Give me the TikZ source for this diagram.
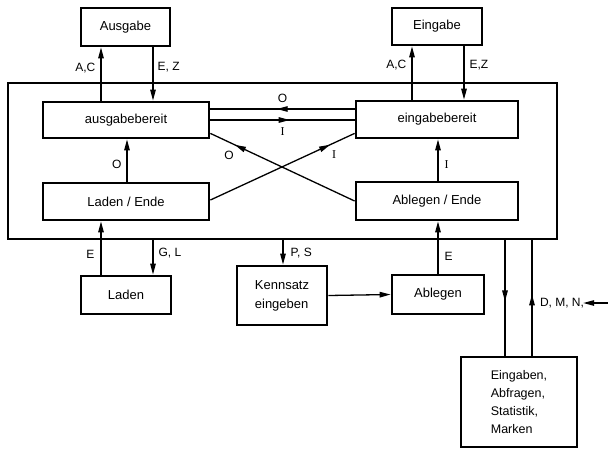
\documentclass[tikz,border=0pt]{standalone}
\usepackage{fontspec}
\setmainfont{Liberation Sans}
\newfontfamily\romanI{Liberation Serif}
\usetikzlibrary{arrows.meta,decorations.markings}

\begin{document}
\begin{tikzpicture}[x=1pt,y=-1pt,
  box/.style={draw,line width=2.8pt,inner sep=0pt,font=\fontsize{13}{19}\selectfont},
  thinbox/.style={draw,line width=1.1pt,inner sep=0pt},
  conn/.style={line width=1.3pt},
  arr/.style={conn,-{Triangle[length=11pt,width=5.5pt]}},
  lbl/.style={inner sep=0pt,font=\fontsize{12}{14}\selectfont},
  midarrow/.style={conn,postaction={decorate},
    decoration={markings,mark=at position #1 with {\arrow{Triangle[length=11pt,width=5.5pt]}}}},
]
\useasboundingbox (0,0) rectangle (608,448);

% outer frame of the state machine
\node[thinbox,minimum width=549pt,minimum height=156pt] (frame) at (282.5,161) {};

% external units
\node[box,minimum width=89pt,minimum height=38pt] (ausgabe) at (125.5,27) {Ausgabe};
\node[box,minimum width=90pt,minimum height=37pt] (eingabe) at (437,26.5) {Eingabe};

% states
\node[box,minimum width=166pt,minimum height=36pt] (ausgabebereit) at (126,120) {ausgabebereit};
\node[box,minimum width=162pt,minimum height=37pt] (eingabebereit) at (437,119.5) {eingabebereit};
\node[box,minimum width=166pt,minimum height=37pt] (ladenende) at (126,201.5) {Laden / Ende};
\node[box,minimum width=162pt,minimum height=38pt] (ablegenende) at (437,201) {Ablegen / Ende};

% lower units
\node[box,minimum width=90pt,minimum height=38pt] (laden) at (126,295) {Laden};
\node[box,minimum width=90pt,minimum height=59pt,align=left] (kennsatz) at (282,295.5) {Kennsatz\\eingeben};
\node[box,minimum width=92pt,minimum height=39pt] (ablegen) at (438,294.5) {Ablegen};
\node[thinbox,line width=1.4pt,minimum width=116pt,minimum height=90pt,align=left,
  font=\fontsize{12.5}{18.3}\selectfont] (eingaben) at (519,402)
  {Eingaben,\\Abfragen,\\Statistik,\\Marken};

% x positions of the vertical connectors
\coordinate (xa) at (101,0);
\coordinate (xb) at (153,0);
\coordinate (xc) at (412,0);
\coordinate (xd) at (464,0);
\coordinate (xo) at (127,0);
\coordinate (xi) at (438,0);
\coordinate (xp) at (283,0);
\coordinate (xg) at (505,0);
\coordinate (xh) at (532,0);
% y positions of the horizontal connectors
\coordinate (yo) at (0,109);
\coordinate (yi) at (0,120);

% Ausgabe / Eingabe
\draw[arr] (ausgabebereit.north -| xa) -- (ausgabe.south -| xa)
  node[lbl,pos=0.62,left=5pt] {A,C};
\draw[arr] (ausgabe.south -| xb) -- (ausgabebereit.north -| xb)
  node[lbl,pos=0.37,right=4pt] {E, Z};
\draw[arr] (eingabebereit.north -| xc) -- (eingabe.south -| xc)
  node[lbl,pos=0.64,left=5pt] {A,C};
\draw[arr] (eingabe.south -| xd) -- (eingabebereit.north -| xd)
  node[lbl,pos=0.36,right=5pt] {E,Z};

% transitions between the ready states
\draw[midarrow=0.54] (eingabebereit.west |- yo) -- (ausgabebereit.east |- yo)
  node[lbl,pos=0.5,above=6pt] {O};
\draw[midarrow=0.55] (ausgabebereit.east |- yi) -- (eingabebereit.west |- yi)
  node[lbl,pos=0.5,below=7pt] {\romanI I};

% crossing transitions
\draw[midarrow=0.83] (ablegenende.west) -- ([yshift=6pt]ausgabebereit.south east);
\draw[midarrow=0.83] ([yshift=1.5pt]ladenende.east) -- ([yshift=6pt]eingabebereit.south west);
\node[lbl] (lcO) at (229,155) {O};
\node[lbl] (lcI) at (334,155) {\romanI I};

% vertical transitions inside the frame
\draw[arr] (ladenende.north -| xo) -- (ausgabebereit.south -| xo)
  node[lbl,pos=0.4,left=5pt] {O};
\draw[arr] (ablegenende.north -| xi) -- (eingabebereit.south -| xi)
  node[lbl,pos=0.4,right=6pt] {\romanI I};

% lower connectors
\draw[arr] (laden.north -| xa) -- (ladenende.south -| xa)
  node[lbl,pos=0.375,left=6pt] {E};
\draw[arr] (frame.south -| xb) -- (laden.north -| xb)
  node[lbl,pos=0.4,right=5pt] {G, L};
\draw[arr] (frame.south -| xp) -- (kennsatz.north -| xp)
  node[lbl,pos=0.55,right=7pt] {P, S};
\draw[arr] (kennsatz.east) -- (ablegen.west);
\draw[arr] (ablegen.north -| xi) -- (ablegenende.south -| xi)
  node[lbl,pos=0.33,right=6pt] {E};

% dialogue unit
\draw[midarrow=0.53] (frame.south -| xg) -- (eingaben.north -| xg);
\draw[midarrow=0.53] (eingaben.north -| xh) -- (frame.south -| xh);
\node[lbl] (dmn) at (562,303) {D, M, N,};
\coordinate (dmnin) at (608,303);
\draw[arr] (dmnin) -- ([xshift=-1pt]dmn.east);
\end{tikzpicture}
\end{document}
